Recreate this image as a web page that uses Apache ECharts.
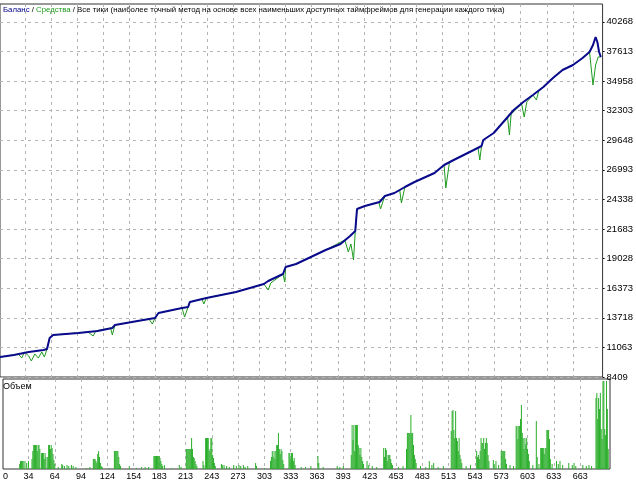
<!DOCTYPE html>
<html>
<head>
<meta charset="utf-8">
<script src="https://cdn.jsdelivr.net/npm/echarts@6/dist/echarts.min.js"></script>
<style>
  html, body { margin: 0; padding: 0; background: #fff; }
  #chart { width: 636px; height: 483px; }
</style>
</head>
<body>
<div id="chart"></div>
<script>
// ось X (номер сделки) и подписи
const xMin = 5
const xMax = 697
const xTicks = [34, 64, 94, 124, 154, 183, 213, 243, 273, 303, 333, 363, 393, 423, 453, 483, 513, 543, 573, 603, 633, 663]
// ось Y баланса
const yMin = 8409
const yMax = 41867
const yTicks = [8409, 11063, 13718, 16373, 19028, 21683, 24338, 26993, 29648, 32303, 34958, 37613, 40268]

// баланс [сделка, значение]
const balance = [
  [5,10203],[21,10382],[38,10652],[55,10831],[59,10921],[62,11907],[66,12176],[95,12356],
  [117,12535],[134,12804],[137,13073],[163,13432],[183,13701],[187,14150],[214,14598],[221,14688],
  [223,15137],[242,15495],[276,16034],[308,16751],[313,17020],[330,17648],[333,18276],[345,18545],
  [379,19801],[396,20339],[407,21057],[413,21505],[415,23479],[424,23748],[441,24107],[447,24645],
  [458,24914],[470,25452],[481,25901],[504,26708],[515,27425],[526,27874],[549,28771],[558,29130],
  [560,29668],[572,30296],[583,31283],[595,32359],[606,33077],[617,33704],[629,34422],[640,35229],
  [651,35947],[663,36395],[674,37023],[682,37562],[686,38190],[689,38907],[691,38459],[693,37562],[695,37113]
]

// средства
const equity = [
  [5,10203],[26,10472],[30,10113],[33,10652],[38,10293],[41,9844],[45,10472],[49,10113],
  [53,10652],[56,10203],[59,10921],[62,11907],[66,12176],[106,12445],[112,12087],[115,12535],
  [132,12804],[134,12176],[137,13073],[163,13432],[176,13611],[180,13163],[183,13701],[187,14150],
  [214,14598],[217,13791],[221,14688],[223,15137],[237,15406],[239,14957],[242,15495],[276,16034],
  [308,16751],[313,16213],[316,16841],[330,17648],[332,16930],[333,18276],[345,18545],[379,19801],
  [401,20698],[405,19622],[408,20339],[411,18904],[413,21505],[415,23479],[424,23748],[440,24107],
  [442,23479],[445,24196],[447,24645],[458,24914],[464,25183],[466,24017],[470,25452],[481,25901],
  [504,26708],[515,27425],[517,25362],[521,27604],[526,27874],[549,28771],[554,28950],[556,27874],
  [558,29130],[560,29668],[572,30296],[583,31283],[588,31642],[590,30116],[592,31999],[604,32897],
  [607,31731],[610,33077],[617,33704],[621,33256],[624,34153],[629,34422],[640,35229],[651,35947],
  [663,36395],[674,37023],[682,37562],[686,34602],[689,36395],[692,37113],[695,37113]
]

// объем
const volume = [
  [24,5],[25,8],[26,8],[27,8],[28,8],[30,8],[32,6],[34,8],
  [38,10],[39,18],[40,24],[41,24],[42,24],[43,24],[44,18],[45,24],[46,24],[47,20],
  [49,16],[50,16],[51,16],[52,10],[53,16],[54,12],
  [56,12],[57,24],[58,24],[59,20],[60,24],[61,21],[62,15],[63,9],[64,5],
  [68,2],[72,5],[73,4],[75,3],[78,4],[80,3],[83,4],[85,3],[88,2],[100,1],[104,2],
  [108,10],[109,10],[110,10],[111,8],[112,6],[113,15],[114,18],[115,12],[116,6],[117,3],[118,2],
  [126,1],[132,18],[133,18],[134,18],[135,18],[136,18],[137,12],[138,5],[139,3],
  [149,3],[157,1],[163,2],[167,2],[171,2],
  [177,13],[178,13],[179,13],[180,13],[181,13],[182,13],[183,13],[184,11],[185,8],[186,5],[187,3],[189,4],
  [197,1],[206,4],[208,2],
  [214,20],[215,20],[216,20],[217,20],[218,20],[219,20],[220,31],[221,20],[222,12],[223,11],[224,8],[225,5],[226,3],
  [233,8],[234,4],[236,31],[237,31],[238,31],[239,31],[240,18],[241,20],[242,31],[243,31],[244,14],[245,11],[246,6],[247,3],
  [254,5],[255,4],[257,4],[260,3],[263,2],[268,4],[271,3],[274,4],[276,3],[279,4],[281,2],[284,3],
  [293,6],[294,3],[303,1],
  [310,8],[311,12],[312,18],[313,12],[314,18],[315,10],[316,18],[317,24],[318,24],[319,36],[320,20],[321,15],[322,20],[323,18],[324,9],[325,5],
  [331,16],[332,16],[333,10],[334,16],[335,16],[336,8],[337,11],[338,4],
  [345,2],[350,2],[356,3],[364,13],[365,6],[370,2],[386,3],[389,2],[393,3],
  [402,14],[403,44],[404,29],[405,44],[406,18],[407,44],[408,44],[409,44],[410,24],[411,21],[412,14],[413,21],[414,12],[415,8],[416,5],
  [420,8],[422,4],[426,3],[431,2],
  [439,21],[440,12],[441,21],[442,19],[443,8],[444,14],[445,14],[446,14],[447,10],[448,6],[449,4],
  [456,2],[461,3],
  [465,20],[466,36],[467,36],[468,36],[469,36],[470,54],[471,36],[472,36],[473,24],[474,14],[475,10],[476,6],
  [481,3],[487,2],[491,8],[494,4],[496,6],[501,2],[507,3],
  [516,38],[517,58],[518,59],[519,39],[520,31],[521,58],[522,31],[523,28],[524,18],[525,31],[526,14],[527,10],[528,6],
  [533,3],[538,4],
  [545,18],[546,12],[547,14],[548,10],[549,18],[550,31],[551,26],[552,26],[553,31],[554,20],[555,26],[556,31],[557,26],[558,14],[559,8],
  [564,9],[565,5],[567,8],[570,4],
  [573,18],[574,18],[575,18],[576,18],[577,18],[578,10],[579,5],[583,4],[587,3],
  [590,43],[591,43],[592,30],[593,43],[594,43],[595,50],[596,64],[597,36],[598,31],[599,20],[600,31],[601,25],[602,31],[603,20],[604,15],[605,8],
  [609,4],[613,48],[614,12],[616,5],
  [618,21],[619,21],[620,21],[621,21],[622,15],[623,21],[624,21],[625,39],[626,39],[627,39],[628,30],[629,10],
  [631,5],[636,8],[638,5],[640,8],[643,4],[650,6],[654,4],[656,6],[658,3],[666,4],[670,3],[673,4],[676,3],
  [681,71],[682,76],[683,50],[684,71],[685,60],[686,76],[687,40],[688,30],[689,88],[690,88],[691,40],[692,34],[693,88],[694,60],[695,20]
]

const font = 'Liberation Sans'
const gridLine = { show: true, lineStyle: { color: '#b4b4b4', type: [3, 4], width: 1 } }

const option = {
  animation: false,
  backgroundColor: '#fff',
  textStyle: { fontFamily: font },
  title: [
    {
      text: '{a|Баланс} / {b|Средства} / Все тики (наиболее точный метод на основе всех наименьших доступных таймфреймов для генерации каждого тика)',
      left: 3, top: 6, padding: 0,
      textStyle: {
        fontSize: 7.8, fontWeight: 'normal', color: '#000', fontFamily: font,
        rich: {
          a: { color: '#00008b', fontSize: 7.8, fontFamily: font },
          b: { color: '#1e9a1e', fontSize: 7.8, fontFamily: font }
        }
      }
    },
    {
      text: 'Объем',
      left: 3, top: 382, padding: 0,
      textStyle: { fontSize: 9, fontWeight: 'normal', color: '#000', fontFamily: font }
    }
  ],
  grid: [
    { left: 0, right: 26, top: 4, height: 373, show: true, borderColor: '#333', borderWidth: 1, backgroundColor: 'transparent' },
    { left: 0, right: 26, top: 379, height: 90, show: true, borderColor: '#333', borderWidth: 1, backgroundColor: 'transparent' }
  ],
  xAxis: [
    {
      type: 'value', gridIndex: 0, min: xMin, max: xMax,
      axisLine: { show: false },
      axisTick: { show: false, customValues: xTicks },
      axisLabel: { show: false },
      splitLine: gridLine
    },
    {
      type: 'value', gridIndex: 1, min: xMin, max: xMax,
      axisLine: { show: false },
      axisTick: { show: false, customValues: xTicks },
      axisLabel: {
        customValues: [xMin].concat(xTicks),
        formatter: (v) => v === xMin ? '0' : String(v),
        alignMinLabel: 'left',
        fontSize: 9, color: '#000', margin: 3, fontFamily: font
      },
      splitLine: gridLine
    }
  ],
  yAxis: [
    {
      type: 'value', gridIndex: 0, position: 'right', min: yMin, max: yMax,
      axisLine: { show: false },
      axisTick: { show: true, length: 2, customValues: yTicks, lineStyle: { color: '#000' } },
      axisLabel: {
        customValues: yTicks,
        formatter: (v) => String(v),
        fontSize: 9.5, color: '#000', margin: 4, fontFamily: font
      },
      splitLine: gridLine
    },
    {
      type: 'value', gridIndex: 1, min: 0, max: 90,
      axisLine: { show: false }, axisTick: { show: false },
      axisLabel: { show: false }, splitLine: { show: false }
    }
  ],
  series: [
    {
      name: 'Средства', type: 'line', xAxisIndex: 0, yAxisIndex: 0,
      data: equity, symbol: 'none',
      lineStyle: { color: '#1e9a1e', width: 1 }
    },
    {
      name: 'Баланс', type: 'line', xAxisIndex: 0, yAxisIndex: 0,
      data: balance, symbol: 'none',
      lineStyle: { color: '#0a0a8c', width: 2 }
    },
    {
      name: 'Объем', type: 'bar', xAxisIndex: 1, yAxisIndex: 1,
      data: volume, barWidth: 1,
      itemStyle: { color: '#2aae2a' }
    }
  ]
}

const chart = echarts.init(document.getElementById('chart'))
chart.setOption(option)
</script>
</body>
</html>
